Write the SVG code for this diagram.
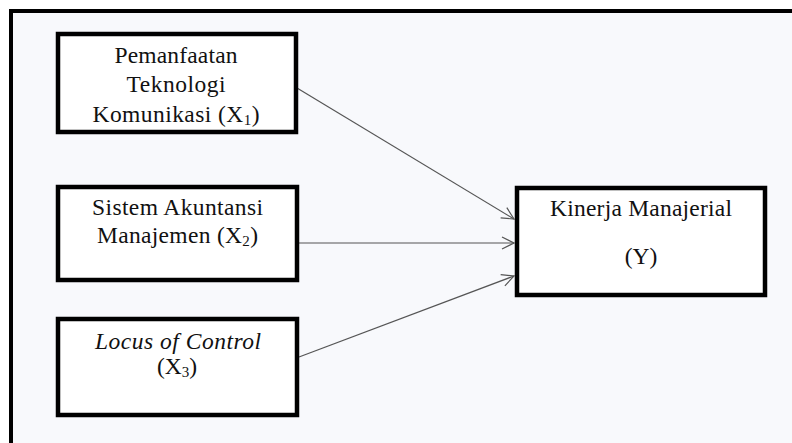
<svg xmlns="http://www.w3.org/2000/svg" width="792" height="443" viewBox="0 0 792 443">
<defs>
<style>
.box{fill:#ffffff;stroke:#000;stroke-width:4.5}
.t{font-family:"Liberation Serif","Times New Roman",serif;font-size:23.5px;fill:#111;text-anchor:middle}
.sub{font-size:15px}
.edge{stroke:#555;stroke-width:1.2;fill:none}
</style>
<marker id="arr" markerUnits="userSpaceOnUse" markerWidth="16" markerHeight="16" viewBox="-14 -8 16 16" refX="0" refY="0" orient="auto">
<path d="M-12,-6 L0,0 L-12,6" fill="none" stroke="#555" stroke-width="1.2"/>
</marker>
</defs>
<rect x="0" y="0" width="792" height="443" fill="#ffffff"/>
<rect x="11" y="11" width="800" height="450" fill="#f8f9fc" stroke="#000" stroke-width="4"/>
<g id="connectors">
<line class="edge" x1="297" y1="88" x2="514" y2="219" marker-end="url(#arr)"/>
<line class="edge" x1="299" y1="243" x2="514" y2="243" marker-end="url(#arr)"/>
<line class="edge" x1="299" y1="357" x2="514" y2="276" marker-end="url(#arr)"/>
</g>
<g id="x1">
<rect class="box" x="58" y="34" width="238" height="98"/>
<text class="t" x="176" y="63" textLength="123" lengthAdjust="spacing">Pemanfaatan</text>
<text class="t" x="176" y="92" textLength="99" lengthAdjust="spacing">Teknologi</text>
<text class="t" x="176" y="122" textLength="167" lengthAdjust="spacing">Komunikasi (X<tspan class="sub" dy="3">1</tspan><tspan dy="-3">)</tspan></text>
</g>
<g id="x2">
<rect class="box" x="58" y="187" width="239" height="93"/>
<text class="t" x="177.5" y="215" textLength="171" lengthAdjust="spacing">Sistem Akuntansi</text>
<text class="t" x="177.5" y="243" textLength="161" lengthAdjust="spacing">Manajemen (X<tspan class="sub" dy="3">2</tspan><tspan dy="-3">)</tspan></text>
</g>
<g id="x3">
<rect class="box" x="58" y="319" width="239" height="96"/>
<text class="t" x="178" y="349" font-style="italic" textLength="166" lengthAdjust="spacing">Locus of Control</text>
<text class="t" x="177" y="374">(X<tspan class="sub" dy="3">3</tspan><tspan dy="-3">)</tspan></text>
</g>
<g id="y">
<rect class="box" x="517" y="188" width="248" height="107"/>
<text class="t" x="641" y="216" textLength="182" lengthAdjust="spacing">Kinerja Manajerial</text>
<text class="t" x="641" y="264">(Y)</text>
</g>
</svg>
